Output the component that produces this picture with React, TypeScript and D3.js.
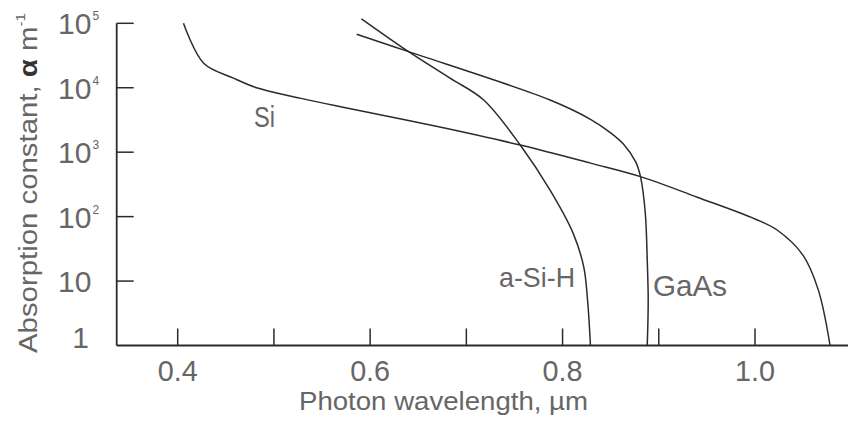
import React from "react";
import * as d3 from "d3";

// Absorption constant (m^-1) vs photon wavelength (µm)
const siWavelength = [0.406, 0.427, 0.458, 0.482, 0.527, 0.577, 0.67, 0.756, 0.829, 0.881, 0.94, 1.0, 1.023, 1.05, 1.066, 1.078];
const siAlpha = [100000, 24000, 14100, 10000, 6900, 4800, 2500, 1290, 676, 417, 200, 92, 62, 25, 7.1, 1];

const gaasWavelength = [0.586, 0.64, 0.787, 0.829, 0.85, 0.863, 0.876, 0.881, 0.886, 0.888, 0.889, 0.888];
const gaasAlpha = [67600, 36300, 6460, 3240, 2000, 1350, 708, 417, 112, 21, 5, 1];

const asihWavelength = [0.591, 0.64, 0.683, 0.718, 0.756, 0.787, 0.811, 0.822, 0.826, 0.829];
const asihAlpha = [117500, 36300, 14100, 6460, 1290, 257, 55, 16.6, 5, 1];

const xTicks = [0.4, 0.5, 0.6, 0.7, 0.8, 0.9, 1.0];
const xTickLabels: Record<string, string> = { "0.4": "0.4", "0.6": "0.6", "0.8": "0.8", "1": "1.0" };
const yTicks = [1, 10, 100, 1000, 10000, 100000];
const yTickBase = ["1", "10", "10", "10", "10", "10"];
const yTickExp = ["", "", "2", "3", "4", "5"];

const W = 848;
const H = 425;
const axisX = 116.7;
const axisY = 345.5;

const x = d3.scaleLinear().domain([0.4, 1.0]).range([177.7, 755]);
const y = d3.scaleLog().domain([1, 1e5]).range([axisY, 23.3]);

const line = d3
  .line<[number, number]>()
  .x((d) => x(d[0]))
  .y((d) => y(d[1]))
  .curve(d3.curveCatmullRom.alpha(0.5));

const zip = (a: number[], b: number[]) => a.map((v, i) => [v, b[i]] as [number, number]);

const FONT = "'Liberation Sans', Arial, sans-serif";
const TEXT = "#666";
const INK = "#2b2b2b";

export default function App() {
  const series = [zip(siWavelength, siAlpha), zip(gaasWavelength, gaasAlpha), zip(asihWavelength, asihAlpha)];
  return (
    <svg width={W} height={H} style={{ position: "absolute", left: 0, top: 0, background: "#fff" }} fontFamily={FONT}>
      {/* axes */}
      <line x1={axisX} y1={y(1e5)} x2={axisX} y2={axisY} stroke={INK} strokeWidth={1.8} />
      <line x1={axisX} y1={axisY} x2={W} y2={axisY} stroke={INK} strokeWidth={1.8} />
      {yTicks.slice(1).map((t) => (
        <line key={t} x1={axisX} x2={axisX + 17} y1={y(t)} y2={y(t)} stroke={INK} strokeWidth={1.5} />
      ))}
      {xTicks.map((t) => (
        <line key={t} x1={x(t)} x2={x(t)} y1={axisY} y2={axisY - 17} stroke={INK} strokeWidth={1.5} />
      ))}

      {/* y tick labels: base number with optional superscript exponent */}
      {yTicks.map((t, i) => {
        const cy = i === 0 ? y(t) - 8.5 : y(t);
        return i === 0 ? (
          <text key={t} x={89} y={cy + 11} fontSize={30} textAnchor="end" fill={TEXT}>
            {yTickBase[i]}
          </text>
        ) : (
          <text key={t} x={58} y={cy + 11} fontSize={30} fill={TEXT}>
            {yTickBase[i]}
            {yTickExp[i] && (
              <tspan fontSize={12} dx={1} dy={-14}>
                {yTickExp[i]}
              </tspan>
            )}
          </text>
        );
      })}

      {/* x tick labels */}
      {xTicks
        .filter((t) => xTickLabels[String(t)])
        .map((t) => (
          <text key={t} x={x(t)} y={axisY + 35.5} fontSize={30} textAnchor="middle" fill={TEXT} textLength={40} lengthAdjust="spacingAndGlyphs">
            {xTickLabels[String(t)]}
          </text>
        ))}

      {/* axis titles */}
      <text x={443.5} y={410} fontSize={26} textAnchor="middle" fill={TEXT} textLength={289} lengthAdjust="spacingAndGlyphs">
        Photon wavelength, µm
      </text>
      <text
        transform="translate(37,183) rotate(-90)"
        fontSize={25}
        textAnchor="middle"
        fill={TEXT}
        textLength={340}
        lengthAdjust="spacingAndGlyphs"
      >
        Absorption constant, <tspan fontWeight="bold" fill="#333">α</tspan> m<tspan fontSize={13} dy={-12}>-1</tspan>
      </text>

      {/* curves */}
      {series.map((s, i) => (
        <path key={i} d={line(s) ?? ""} fill="none" stroke={INK} strokeWidth={1.5} />
      ))}

      {/* curve labels */}
      <text x={254} y={127} fontSize={29} fill={TEXT} textLength={21} lengthAdjust="spacingAndGlyphs">
        Si
      </text>
      <text x={499} y={287} fontSize={28} fill={TEXT} textLength={76} lengthAdjust="spacingAndGlyphs">
        a-Si-H
      </text>
      <text x={653} y={296} fontSize={30} fill={TEXT} textLength={74} lengthAdjust="spacingAndGlyphs">
        GaAs
      </text>
    </svg>
  );
}
